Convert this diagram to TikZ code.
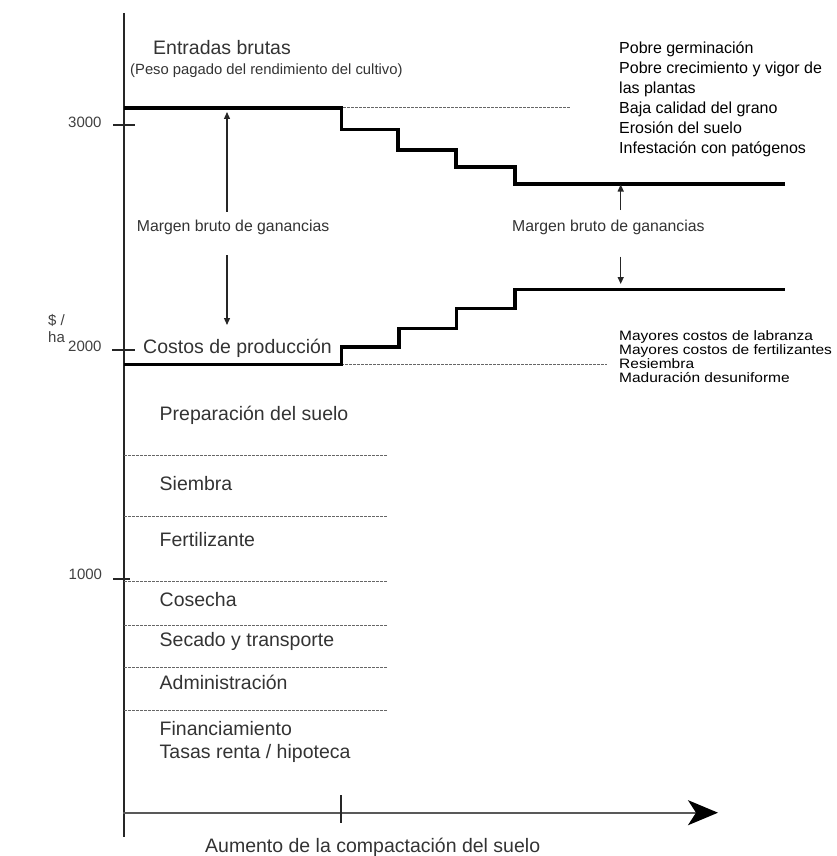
\documentclass[tikz,border=0pt]{standalone}
\usepackage{fontspec}
\setmainfont{Liberation Sans}
\usetikzlibrary{arrows.meta}
\newcommand{\flatline}[1]{\scalebox{1}[0.88]{#1}}
\begin{document}
\begin{tikzpicture}[x=1pt,y=-1pt,
  axisline/.style={line width=1.8pt, black!85},
  xaxis/.style={line width=2pt, black!65, -{Stealth[length=30pt,width=25pt,inset=8pt,color=black]}},
  tickmark/.style={line width=1.5pt, black!85},
  curve/.style={line width=3.6pt, black, line join=miter},
  guide/.style={line width=0.9pt, black!60, dash pattern=on 2.5pt off 1.5pt},
  margin/.style={line width=1.3pt, black!85, -{Triangle[length=7pt,width=6pt]}},
  biglbl/.style={font=\fontsize{19.5}{23}\selectfont, text=black!80, anchor=base west, inner sep=0pt},
  marglbl/.style={font=\fontsize{15.8}{18}\selectfont, text=black!80, anchor=base west, inner sep=0pt},
  sublbl/.style={font=\fontsize{14.8}{17}\selectfont, text=black!80, anchor=base west, inner sep=0pt},
  ticklbl/.style={font=\fontsize{15}{17}\selectfont, text=black!75, anchor=base west, inner sep=0pt},
  note/.style={font=\fontsize{16}{19}\selectfont, text=black, anchor=base west, inner sep=0pt},
  notesm/.style={font=\fontsize{15.5}{17}\selectfont, text=black, anchor=base west, inner sep=0pt},
]
\useasboundingbox (0,0) rectangle (836,856);

% axes
\coordinate (ytop) at (124,13);
\coordinate (ybot) at (124,837);
\coordinate (orig) at (123,812.7);
\coordinate (xend) at (718,812.7);
\draw[axisline] (ytop) -- (ybot);
\draw[xaxis] (orig) -- (xend);
\coordinate (xt1) at (341,795);
\coordinate (xt2) at (341,823);
\draw[tickmark] (xt1) -- (xt2);

% y ticks and their values
\coordinate (t3a) at (113,125); \coordinate (t3b) at (135,125);
\coordinate (t2a) at (112,350); \coordinate (t2b) at (135,350);
\coordinate (t1a) at (113,579); \coordinate (t1b) at (130,579);
\draw[tickmark] (t3a) -- (t3b);
\draw[tickmark] (t2a) -- (t2b);
\draw[tickmark] (t1a) -- (t1b);
\node[ticklbl] (v3000) at (68,127.3) {3000};
\node[ticklbl] (v2000) at (68,351.5) {2000};
\node[ticklbl] (v1000) at (68.5,579.5) {1000};
\node[ticklbl] (unit1) at (48,325) {\$ /};
\node[ticklbl] (unit2) at (48,342) {ha};

% reference (dashed) levels
\coordinate (gi0) at (343,107.5); \coordinate (gi1) at (570,107.5);
\coordinate (gc0) at (341,364.3); \coordinate (gc1) at (607,364.3);
\draw[guide] (gi0) -- (gi1);
\draw[guide] (gc0) -- (gc1);

% gross income: steps down with compaction
\draw[curve] (124,108.3) -- (341.5,108.3) -- (341.5,129.5) -- (398,129.5)
  -- (398,150) -- (456,150) -- (456,166.7) -- (515,166.7) -- (515,184) -- (785,184);
% production costs: steps up with compaction
\draw[curve] (124,364.3) -- (341.5,364.3) -- (341.5,346.7) -- (399,346.7)
  -- (399,328.3) -- (456.5,328.3) -- (456.5,308.5) -- (515,308.5) -- (515,289.3) -- (785,289.3);

% titles
\node[biglbl] (entradas) at (153,55) {Entradas brutas};
\node[sublbl] (peso) at (130,75) {(Peso pagado del rendimiento del cultivo)};
\node[biglbl] (costos) at (143,353) {Costos de producción};

% gross margin, left
\node[marglbl] (margL) at (136.7,231.7) {Margen bruto de ganancias};
\coordinate (mLup0) at (227,211.5); \coordinate (mLup1) at (227,112);
\coordinate (mLdn0) at (227,255); \coordinate (mLdn1) at (227,325);
\draw[margin] (mLup0) -- (mLup1);
\draw[margin] (mLdn0) -- (mLdn1);

% gross margin, right
\node[marglbl] (margR) at (512,231.7) {Margen bruto de ganancias};
\coordinate (mRup0) at (620.7,210); \coordinate (mRup1) at (620.7,184.5);
\coordinate (mRdn0) at (620.7,256.7); \coordinate (mRdn1) at (620.7,284);
\draw[margin] (mRup0) -- (mRup1);
\draw[margin] (mRdn0) -- (mRdn1);

% losses in income
\foreach \txt [count=\i from 0] in {Pobre germinación, Pobre crecimiento y vigor de,
  las plantas, Baja calidad del grano, Erosión del suelo, Infestación con patógenos}
  \node[note] (loss\i) at (619,54+19.9*\i) {\txt};

% extra costs
\foreach \txt [count=\i from 0] in {Mayores costos de labranza, Mayores costos de fertilizantes,
  Resiembra, Maduración desuniforme}
  \node[notesm] (cost\i) at (619,340+14.3*\i) {\flatline{\txt}};

% cost items separated by dotted lines
\foreach \yy [count=\i] in {455,516.7,581.7,625,667.7,710}{
  \coordinate (sa\i) at (124,\yy);
  \coordinate (sb\i) at (387,\yy);
  \draw[guide] (sa\i) -- (sb\i);
}
\node[biglbl] (prep) at (159.5,420.7) {Preparación del suelo};
\node[biglbl] (siem) at (159.5,490) {Siembra};
\node[biglbl] (fert) at (159.5,546.7) {Fertilizante};
\node[biglbl] (cose) at (159.5,606.7) {Cosecha};
\node[biglbl] (seca) at (159.5,646.7) {Secado y transporte};
\node[biglbl] (admi) at (159.5,689) {Administración};
\node[biglbl] (fina) at (159.5,735) {Financiamiento};
\node[biglbl] (tasa) at (159.5,758.3) {Tasas renta / hipoteca};

% x axis title
\node[biglbl] (xlbl) at (205,852.5) {Aumento de la compactación del suelo};
\end{tikzpicture}
\end{document}
